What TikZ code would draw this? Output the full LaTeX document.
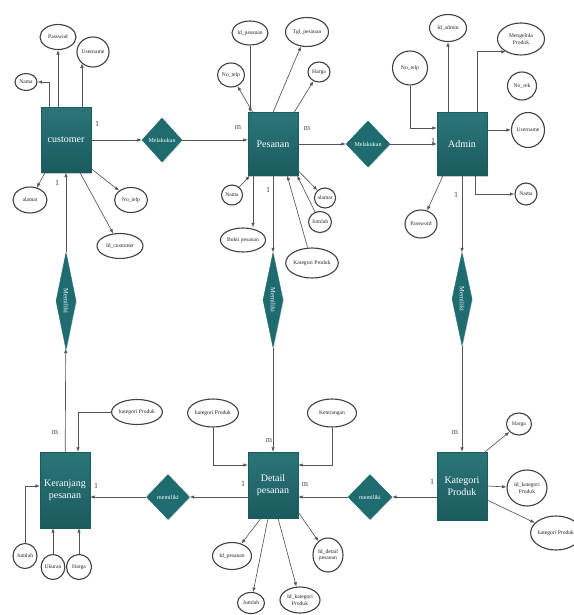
\documentclass[tikz,border=0pt]{standalone}
\usepackage{fontspec}
\setmainfont{Liberation Serif}
\usetikzlibrary{arrows.meta,shapes.geometric,shadows}
\definecolor{tealtop}{HTML}{2B7579}
\definecolor{tealbot}{HTML}{1A5B5F}
\definecolor{tealdia}{HTML}{1F6C70}
\definecolor{linegrey}{HTML}{555555}
\definecolor{rimgrey}{HTML}{404040}
\tikzset{
  entity/.style={rectangle, top color=tealtop, bottom color=tealbot, draw=tealbot,
    minimum width=50pt, minimum height=64pt, inner sep=1pt, text=white,
    align=center, font=\fontsize{10}{11.5}\selectfont,
    drop shadow={shadow xshift=1pt, shadow yshift=-1.2pt, opacity=0.35, fill=black!60}},
  relbox/.style={diamond, fill=tealdia, draw=tealdia, inner sep=0pt, text=white,
    font=\fontsize{6}{7}\selectfont,
    drop shadow={shadow xshift=0.8pt, shadow yshift=-0.8pt, opacity=0.3, fill=black!60}},
  relv/.style={diamond, fill=tealdia, draw=tealdia, inner sep=0pt,
    drop shadow={shadow xshift=0.8pt, shadow yshift=-0.8pt, opacity=0.3, fill=black!60}},
  relvtext/.style={rotate=-90, text=white, inner sep=0pt, font=\fontsize{6.5}{7.5}\selectfont},
  attr/.style={ellipse, draw=rimgrey, line width=1.1pt, fill=white, inner sep=0pt,
    align=center, font=\fontsize{5.6}{6.2}\selectfont, text=black!85},
  arr/.style={draw=linegrey, line width=0.65pt, -{Latex[length=4.5pt,width=3.5pt]}},
  card/.style={font=\fontsize{8}{9}\selectfont, text=black!75, inner sep=0pt},
}
\begin{document}
\begin{tikzpicture}[x=1pt,y=-1pt]
\useasboundingbox (0,0) rectangle (573,615);

% ---------- entities ----------
\node[entity] (cust) at (66,140) [minimum height=65pt] {customer};
\node[entity] (pes)  at (273,144) [minimum height=63pt] {Pesanan};
\node[entity] (adm)  at (462,144) [minimum height=63pt] {Admin};
\node[entity] (ker)  at (65,490) [minimum height=76pt] {Keranjang\\pesanan};
\node[entity] (det)  at (273,485) [minimum height=66pt] {Detail\\pesanan};
\node[entity] (kat)  at (462,486) [minimum height=68pt] {Kategori\\Produk};

% ---------- relationships ----------
\node[relbox, minimum width=40pt, minimum height=44pt] (mel1) at (162,140) {Melakukan};
\node[relbox, minimum width=44pt, minimum height=46pt] (mel2) at (368,144) {Melakukan};
\node[relv, minimum width=20pt, minimum height=97pt] (mem1) at (66,301) {};
\node[relv, minimum width=20pt, minimum height=95pt] (mem2) at (273,300) {};
\node[relv, minimum width=20pt, minimum height=93pt] (mem3) at (462,299) {};
\node[relvtext] (mem1t) at (mem1) {Memiliki};
\node[relvtext] (mem2t) at (mem2) {Memiliki};
\node[relvtext] (mem3t) at (mem3) {Memiliki};
\node[relbox, minimum width=43pt, minimum height=45pt] (mem4) at (168,497) {memiliki};
\node[relbox, minimum width=44pt, minimum height=45pt] (mem5) at (370,497) {memiliki};

% ---------- attributes: customer ----------
\node[attr, minimum width=36pt, minimum height=25pt] (cpw) at (58,37) {Passwod};
\node[attr, minimum width=31pt, minimum height=30pt] (cuser) at (93,52) {Username};
\node[attr, minimum width=22pt, minimum height=17pt] (cnama) at (26,82) {Nama};
\node[attr, minimum width=34pt, minimum height=26pt] (calamat) at (30,200) {alamat};
\node[attr, minimum width=33pt, minimum height=25pt] (cnotelp) at (131,200) {No\_telp};
\node[attr, minimum width=46pt, minimum height=25pt] (cidc) at (120,246) {Id\_customer};

% ---------- attributes: Pesanan ----------
\node[attr, minimum width=36pt, minimum height=24pt] (pidp) at (250,33) {Id\_pesanan};
\node[attr, minimum width=43pt, minimum height=29pt] (ptgl) at (307,32) {Tgl\_pesanan};
\node[attr, minimum width=27pt, minimum height=24pt] (pnotelp) at (231,75) {No\_telp};
\node[attr, minimum width=22pt, minimum height=20pt] (pharga) at (319,72) {Harga};
\node[attr, minimum width=21pt, minimum height=20pt] (pnama) at (232,195) {Nama};
\node[attr, minimum width=21pt, minimum height=20pt] (palamat) at (325,198) {alamat};
\node[attr, minimum width=21pt, minimum height=21pt] (pjml) at (320,222) {Jumlah};
\node[attr, minimum width=44pt, minimum height=24pt] (pbukti) at (243,240) {Bukti pesanan};
\node[attr, minimum width=48pt, minimum height=30pt] (pkat) at (312,263) {Kategori Produk};

% ---------- attributes: Admin ----------
\node[attr, minimum width=37pt, minimum height=27pt] (aid) at (448,28) {Id\_admin};
\node[attr, minimum width=47pt, minimum height=32pt] (ameng) at (521,39) {Mengelola\\Produk};
\node[attr, minimum width=35pt, minimum height=34pt] (anotelp) at (410,68) {No\_telp};
\node[attr, minimum width=29pt, minimum height=28pt] (arek) at (522,86) {No\_rek};
\node[attr, minimum width=33pt, minimum height=35pt] (auser) at (528,130) {Username};
\node[attr, minimum width=22pt, minimum height=22pt] (anama) at (526,194) {Nama};
\node[attr, minimum width=32pt, minimum height=28pt] (apw) at (421,224) {Password};

% ---------- attributes: Keranjang pesanan ----------
\node[attr, minimum width=50pt, minimum height=25pt] (kkat) at (137,412) {kategori Produk};
\node[attr, minimum width=24pt, minimum height=25pt] (kjml) at (25,556) {Jumlah};
\node[attr, minimum width=23pt, minimum height=25pt] (kuk) at (53,567) {Ukuran};
\node[attr, minimum width=25pt, minimum height=25pt] (kharga) at (79,567) {Harga};

% ---------- attributes: Detail pesanan ----------
\node[attr, minimum width=50pt, minimum height=28pt] (dkat) at (213,413) {kategori Produk};
\node[attr, minimum width=49pt, minimum height=28pt] (dket) at (332,413) {Keterangan};
\node[attr, minimum width=39pt, minimum height=27pt] (did) at (232,556) {Id\_pesanan};
\node[attr, minimum width=30pt, minimum height=34pt] (didet) at (328,555) {Id\_detail\\pesanan};
\node[attr, minimum width=27pt, minimum height=21pt] (djml) at (251,603) {Jumlah};
\node[attr, minimum width=40pt, minimum height=26pt] (dikat) at (300,600) {Id\_kategori\\Produk};

% ---------- attributes: Kategori Produk ----------
\node[attr, minimum width=25pt, minimum height=22pt] (kh) at (519,424) {Harga};
\node[attr, minimum width=40pt, minimum height=36pt] (kidk) at (527,488) {Id\_kategori\\Produk};
\node[attr, minimum width=48pt, minimum height=34pt] (kkp) at (556,533) {kategori Produk};

% ---------- relationship lines ----------
\draw[arr] (cust) -- (mel1);
\draw[arr] (mel1) -- (mel1 -| pes.west);
\draw[arr] (pes) -- (mel2);
\draw[arr] (mel2) -- (mel2 -| adm.west);
\draw[arr] (mem1) -- (mem1 |- cust.south);
\draw[arr] (ker) -- (mem1);
\draw[arr] (pes) -- (mem2);
\draw[arr] (mem2) -- (mem2 |- det.north);
\draw[arr] (adm) -- (mem3);
\draw[arr] (mem3) -- (mem3 |- kat.north);
\draw[arr] (mem4) -- (mem4 -| ker.east);
\draw[arr] (det.west |- mem4) -- (mem4);
\draw[arr] (kat.west |- mem5) -- (mem5);
\draw[arr] (mem5) -- (mem5 -| det.east);

% ---------- cardinalities ----------
\node[card] (c1) at (97,124) {1};
\node[card] (c2) at (238,128) {m};
\node[card] (c3) at (57,183) {1};
\node[card] (c4) at (55,433) {m};
\node[card] (c5) at (307,129) {m};
\node[card] (c6) at (433,141) {1};
\node[card] (c7) at (268,190) {1};
\node[card] (c8) at (269,441) {m};
\node[card] (c9) at (456,195) {1};
\node[card] (c10) at (455,433) {m};
\node[card] (c11) at (96,486) {1};
\node[card] (c12) at (243,484) {1};
\node[card] (c13) at (305,485) {m};
\node[card] (c14) at (432,482) {1};

% ---------- attribute lines: customer ----------
\draw[arr] ([xshift=-17pt]cust.north) |- (cnama);
\draw[arr] (cust.north -| cpw) -- (cpw);
\draw[arr] ([xshift=16pt]cust.north) -- ([xshift=16pt]cust.north |- cuser.225);
\draw[arr] ([xshift=-21pt]cust.south) -- (calamat);
\draw[arr] ([yshift=4pt]cust.south east) -- (cnotelp);
\draw[arr] ([xshift=14pt]cust.south) -- (cidc);

% ---------- attribute lines: Pesanan ----------
\draw[arr] (pidp) -- (pidp |- pes.north);
\draw[arr] (pes.north) -- (ptgl);
\draw[arr] ([xshift=5pt]pes.north west) -- (pnotelp);
\draw[arr] ([xshift=-4pt]pes.north east) -- (pharga);
\draw[arr] (pnama) -- ([xshift=2pt]pes.south west);
\draw[arr] ([yshift=5pt]pes.south east) -- (palamat);
\draw[arr] (pjml) -- ([xshift=-1pt]pes.south east);
\draw[arr] (pkat) -- ([xshift=-11pt]pes.south east);
\draw[arr] ([xshift=-20pt]pes.south) -- ([xshift=-20pt]pes.south |- pbukti.north);

% ---------- attribute lines: Admin ----------
\draw[arr] (adm.north -| aid) -- (aid);
\draw[arr] ([xshift=15pt]adm.north) |- (ameng.220);
\draw[arr] (anotelp.south) |- ([yshift=16pt]adm.west);
\draw[arr] ([yshift=14pt]adm.east) -- (auser);
\draw[arr] ([xshift=13pt]adm.south) |- (anama);
\draw[arr] ([xshift=-19pt]adm.south) -- (apw);

% ---------- attribute lines: Keranjang pesanan ----------
\draw[arr] (kkat.west) -| ([xshift=13pt]ker.north);
\draw[arr] (kjml.north) |- ([yshift=4pt]ker.west);
\draw[arr] (kuk) -- (kuk |- ker.south);
\draw[arr] (kharga) -- (kharga |- ker.south);

% ---------- attribute lines: Detail pesanan ----------
\draw[arr] (dkat.south) |- ([yshift=20pt]det.west);
\draw[arr] (dket.south) |- ([yshift=20pt]det.east);
\draw[arr] ([xshift=-12pt]det.south) -- (did);
\draw[arr] ([xshift=-5pt]det.south) -- (djml);
\draw[arr] ([xshift=5pt]det.south) -- (dikat);
\draw[arr] ([yshift=6pt]det.south east) -- (didet);

% ---------- attribute lines: Kategori Produk ----------
\draw[arr] ([xshift=-2pt]kat.north east) -- (kh);
\draw[arr] (kat.east) -- (kidk);
\draw[arr] ([yshift=-14pt]kat.east) -- (kkp);
\end{tikzpicture}
\end{document}
